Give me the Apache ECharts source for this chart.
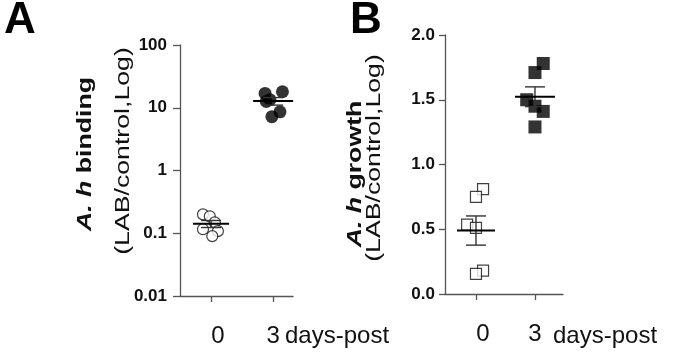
<!DOCTYPE html>
<html>
<head>
<meta charset="utf-8">
<script src="https://cdn.jsdelivr.net/npm/echarts@6/dist/echarts.min.js"></script>
<style>
  html, body { margin: 0; padding: 0; background: #fff; }
  #chart { width: 675px; height: 357px; }
</style>
</head>
<body>
<div id="chart"></div>
<script>
// x tick labels (days-post)
const days = ['0', '3']

// panel A: binding, log scale
const bindingDay0 = [0.20, 0.186, 0.149, 0.116, 0.108, 0.09]
const bindingDay0Jitter = [-0.13, -0.02, 0.06, -0.13, 0.11, 0.02]
const bindingDay3 = [18.0, 16.9, 13.4, 12.6, 8.6, 7.2]
const bindingDay3Jitter = [0.15, -0.13, -0.05, -0.11, 0.11, -0.02]
const bindingTicks = [0.01, 0.1, 1, 10, 100]

// panel B: growth, linear scale
const growthDay0 = [0.81, 0.75, 0.535, 0.51, 0.18, 0.155]
const growthDay0Jitter = [0.12, 0, -0.15, 0, 0.12, 0]
const growthDay3 = [1.78, 1.71, 1.50, 1.45, 1.41, 1.29]
const growthDay3Jitter = [0.14, 0, -0.14, 0, 0.14, 0]
const growthTicks = [0.0, 0.5, 1.0, 1.5, 2.0]

const FONT = '"Liberation Sans", Arial, sans-serif'

function meanSem (arr) {
  const n = arr.length
  const m = arr.reduce((a, b) => a + b, 0) / n
  const sd = Math.sqrt(arr.reduce((a, b) => a + (b - m) * (b - m), 0) / (n - 1))
  return [m, sd / Math.sqrt(n)]
}

function points (vals, jit, g) {
  return vals.map((v, i) => [g + jit[i], v])
}

// mean line + sem bar -> [group, mean, sem, half width of mean line]
function statData (groups) {
  return groups.map((arr, g) => {
    const ms = meanSem(arr.vals)
    return [g, ms[0], ms[1], arr.half]
  })
}

function renderStat (params, api) {
  const g = api.value(0)
  const m = api.value(1)
  const s = api.value(2)
  const half = api.value(3)
  const c = api.coord([g, m])
  const top = api.coord([g, m + s])
  const bot = api.coord([g, m - s])
  const grey = { stroke: '#333', lineWidth: 1.4 }
  return {
    type: 'group',
    children: [
      { type: 'line', shape: { x1: c[0], y1: top[1], x2: c[0], y2: bot[1] }, style: grey },
      { type: 'line', shape: { x1: c[0] - 10, y1: top[1], x2: c[0] + 10, y2: top[1] }, style: grey },
      { type: 'line', shape: { x1: c[0] - 10, y1: bot[1], x2: c[0] + 10, y2: bot[1] }, style: grey },
      { type: 'line', shape: { x1: c[0] - half, y1: c[1], x2: c[0] + half, y2: c[1] }, style: { stroke: '#000', lineWidth: 2 } }
    ]
  }
}

function xAxis (gridIndex, min, max) {
  return {
    type: 'value',
    gridIndex: gridIndex,
    min: min,
    max: max,
    splitLine: { show: false },
    axisLine: { onZero: false, lineStyle: { color: '#555', width: 1.3 } },
    axisTick: { customValues: [0, 1], length: 6, lineStyle: { color: '#555', width: 1.3 } },
    axisLabel: {
      customValues: [0, 1],
      margin: 28,
      fontSize: 24,
      fontFamily: FONT,
      color: '#111',
      formatter: v => v === 0 ? '{s|' + days[0] + '}' : days[1],
      rich: { s: { fontSize: 24, fontFamily: FONT, color: '#111', padding: [0, 0, 0, 14] } }
    }
  }
}

function titleText (x, y, word) {
  return {
    type: 'text', x: x, y: y, rotation: Math.PI / 2, scaleX: 1.27,
    style: {
      text: '{i|A. h}{b| ' + word + '}', align: 'center', verticalAlign: 'middle',
      rich: {
        i: { font: 'italic bold 21px ' + FONT, fill: '#111' },
        b: { font: 'bold 21px ' + FONT, fill: '#111' }
      }
    }
  }
}

function unitText (x, y) {
  return {
    type: 'text', x: x, y: y, rotation: Math.PI / 2, scaleX: 1.27,
    style: { text: '(LAB/control,Log)', font: '21px ' + FONT, fill: '#111', align: 'center', verticalAlign: 'middle' }
  }
}

const chart = echarts.init(document.getElementById('chart'))

const option = {
  animation: false,
  grid: [
    { left: 180, top: 45, width: 113, height: 251 },
    { left: 445, top: 35, width: 118, height: 259 }
  ],
  xAxis: [
    xAxis(0, -0.5, 1.32),
    xAxis(1, -0.525, 1.475)
  ],
  yAxis: [
    {
      type: 'log',
      gridIndex: 0,
      logBase: 10,
      min: bindingTicks[0],
      max: bindingTicks[bindingTicks.length - 1],
      splitLine: { show: false },
      axisLine: { show: true, onZero: false, lineStyle: { color: '#555', width: 1.3 } },
      axisTick: { show: true, length: 7, lineStyle: { color: '#555', width: 1.3 } },
      axisLabel: {
        margin: 13,
        fontSize: 17,
        fontWeight: 'bold',
        fontFamily: FONT,
        color: '#111',
        formatter: v => {
          const hit = bindingTicks.find(t => Math.abs(Math.log10(t) - Math.log10(v)) < 1e-6)
          return hit !== undefined ? String(hit) : ''
        }
      }
    },
    {
      type: 'value',
      gridIndex: 1,
      min: growthTicks[0],
      max: growthTicks[growthTicks.length - 1],
      interval: 0.5,
      splitLine: { show: false },
      axisLine: { show: true, onZero: false, lineStyle: { color: '#555', width: 1.3 } },
      axisTick: { show: true, length: 6, lineStyle: { color: '#555', width: 1.3 } },
      axisLabel: {
        margin: 10,
        fontSize: 17,
        fontWeight: 'bold',
        fontFamily: FONT,
        color: '#111',
        formatter: v => v.toFixed(1)
      }
    }
  ],
  graphic: [
    // panel letters
    { type: 'text', x: 20, y: 21, style: { text: 'A', font: 'bold 44px ' + FONT, fill: '#000', align: 'center', verticalAlign: 'middle' } },
    { type: 'text', x: 366, y: 21, style: { text: 'B', font: 'bold 44px ' + FONT, fill: '#000', align: 'center', verticalAlign: 'middle' } },
    // y titles, rotated
    titleText(85, 154, 'binding'),
    unitText(123, 151),
    titleText(355, 174, 'growth'),
    unitText(374, 158),
    // x unit text
    { type: 'text', x: 285, y: 336, style: { text: 'days-post', font: '24px ' + FONT, fill: '#111', align: 'left', verticalAlign: 'middle' } },
    { type: 'text', x: 553, y: 336, style: { text: 'days-post', font: '24px ' + FONT, fill: '#111', align: 'left', verticalAlign: 'middle' } }
  ],
  series: [
    {
      type: 'scatter', xAxisIndex: 0, yAxisIndex: 0,
      symbol: 'circle', symbolSize: 11,
      itemStyle: { color: '#fff', borderColor: '#111', borderWidth: 1.2 },
      data: points(bindingDay0, bindingDay0Jitter, 0)
    },
    {
      type: 'scatter', xAxisIndex: 0, yAxisIndex: 0,
      symbol: 'circle', symbolSize: 13,
      itemStyle: { color: '#000' },
      data: points(bindingDay3, bindingDay3Jitter, 1)
    },
    {
      type: 'custom', xAxisIndex: 0, yAxisIndex: 0,
      renderItem: renderStat,
      z: 5,
      data: statData([{ vals: bindingDay0, half: 18 }, { vals: bindingDay3, half: 20 }])
    },
    {
      type: 'scatter', xAxisIndex: 1, yAxisIndex: 1,
      symbol: 'rect', symbolSize: 11,
      itemStyle: { color: '#fff', borderColor: '#111', borderWidth: 1.2 },
      data: points(growthDay0, growthDay0Jitter, 0)
    },
    {
      type: 'scatter', xAxisIndex: 1, yAxisIndex: 1,
      symbol: 'rect', symbolSize: 13,
      itemStyle: { color: '#000' },
      data: points(growthDay3, growthDay3Jitter, 1)
    },
    {
      type: 'custom', xAxisIndex: 1, yAxisIndex: 1,
      renderItem: renderStat,
      z: 5,
      data: statData([{ vals: growthDay0, half: 19 }, { vals: growthDay3, half: 20 }])
    }
  ]
}

chart.setOption(option)
</script>
</body>
</html>
